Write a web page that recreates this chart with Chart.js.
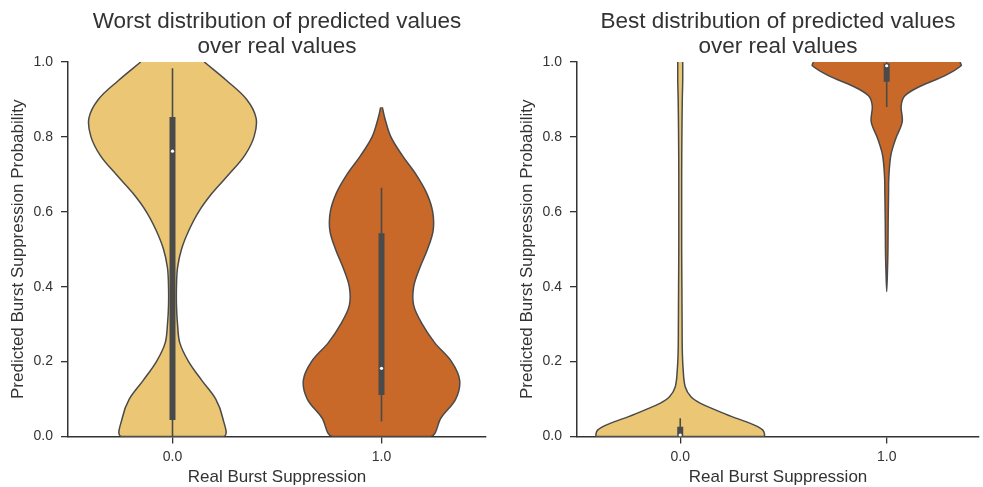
<!DOCTYPE html>
<html>
<head>
<meta charset="utf-8">
<script src="https://cdn.jsdelivr.net/npm/chart.js@4"></script>
<style>
  html, body { margin: 0; padding: 0; background: #fff; }
  body { width: 983px; height: 487px; position: relative; overflow: hidden; }
  .panel { position: absolute; top: 0; height: 487px; }
  #left { left: 0; width: 490px; }
  #right { left: 509px; width: 474px; }
</style>
</head>
<body>
<div class="panel" id="left"><canvas id="worst" width="490" height="487"></canvas></div>
<div class="panel" id="right"><canvas id="best" width="474" height="487"></canvas></div>
<script>
var categories = [0, 1];
var xTickLabels = ['0.0', '1.0'];
var yTicks = [0, 0.2, 0.4, 0.6, 0.8, 1.0];
var colors = ['#EBC775', '#C8692A'];

var worstTitle = ['Worst distribution of predicted values', 'over real values'];
var bestTitle = ['Best distribution of predicted values', 'over real values'];

// violin outline: probability levels and density half width (in category units)
var worstNoLevels = [0, 0.05, 0.1, 0.15, 0.2, 0.25, 0.3, 0.35, 0.4, 0.45, 0.5, 0.55, 0.6, 0.65, 0.7, 0.75, 0.8, 0.85, 0.9, 0.95, 1.0];
var worstNoWidths = [0.245, 0.24, 0.207, 0.14, 0.077, 0.035, 0.024, 0.019, 0.019, 0.024, 0.043, 0.078, 0.125, 0.19, 0.27, 0.345, 0.39, 0.40, 0.355, 0.26, 0.152];

var worstYesLevels = [0, 0.05, 0.1, 0.15, 0.2, 0.25, 0.3, 0.35, 0.4, 0.45, 0.5, 0.55, 0.6, 0.65, 0.7, 0.75, 0.8, 0.85, 0.879];
var worstYesWidths = [0.235, 0.285, 0.355, 0.374, 0.335, 0.255, 0.195, 0.154, 0.154, 0.183, 0.22, 0.247, 0.245, 0.216, 0.165, 0.10, 0.045, 0.016, 0.004];

var bestNoLevels = [0, 0.017, 0.035, 0.053, 0.071, 0.089, 0.106, 0.133, 0.18, 0.23, 0.3, 0.4, 0.5, 0.6, 0.7, 0.8, 0.9, 0.95, 1.0];
var bestNoWidths = [0.403, 0.40, 0.34, 0.25, 0.17, 0.096, 0.052, 0.024, 0.014, 0.01, 0.009, 0.008, 0.007, 0.007, 0.007, 0.008, 0.01, 0.012, 0.012];

var bestYesLevels = [0.387, 0.45, 0.5, 0.573, 0.65, 0.689, 0.751, 0.796, 0.84, 0.883, 0.91, 0.936, 0.963, 0.99, 1.0];
var bestYesWidths = [0, 0.004, 0.006, 0.007, 0.009, 0.01, 0.02, 0.044, 0.075, 0.07, 0.088, 0.165, 0.28, 0.36, 0.355];

// inner box: [whisker low, q1, median, q3, whisker high]
var worstNoBox = [0.0, 0.044, 0.762, 0.853, 0.983];
var worstYesBox = [0.04, 0.111, 0.182, 0.543, 0.664];
var bestNoBox = [0.0, 0.0, 0.004, 0.026, 0.049];
var bestYesBox = [0.88, 0.947, 0.99, 0.996, 1.0];

Chart.defaults.font.family = "'Liberation Sans', Arial, sans-serif";
Chart.defaults.color = '#333';

var edge = '#4a4a4a';

// down the left side, up the right side; the top stays open (cut by the axes)
function violinPoints(pos, levels, widths) {
    var pts = [];
    for (var j = levels.length - 1; j >= 0; j--) pts.push({x: pos - widths[j], y: levels[j]});
    for (var i = 0; i < levels.length; i++) {
        if (i == 0 && widths[0] == 0) continue;
        pts.push({x: pos + widths[i], y: levels[i]});
    }
    return pts;
}

function violinDatasets(pos, levels, widths, box, color) {
    var pts = violinPoints(pos, levels, widths);
    return [
        {
            data: pts,
            borderWidth: 0,
            borderColor: 'rgba(0,0,0,0)',
            backgroundColor: color,
            fill: 'shape',
            pointRadius: 0,
            tension: 0.35,
            clip: 0,
            order: 4
        },
        {
            data: pts,
            borderColor: edge,
            borderWidth: 1.5,
            fill: false,
            pointRadius: 0,
            tension: 0.35,
            clip: 0,
            order: 3
        },
        {
            data: [{x: pos, y: box[0]}, {x: pos, y: box[4]}],
            borderColor: edge,
            borderWidth: 1.6,
            pointRadius: 0,
            fill: false,
            order: 2
        },
        {
            data: [{x: pos, y: box[1]}, {x: pos, y: box[3]}],
            borderColor: edge,
            borderWidth: 6,
            borderCapStyle: 'butt',
            pointRadius: 0,
            fill: false,
            order: 1
        },
        {
            data: [{x: pos, y: box[2]}],
            showLine: false,
            pointRadius: 1.6,
            pointBorderWidth: 0,
            pointBackgroundColor: '#ffffff',
            order: 0
        }
    ];
}

function makeChart(id, title, xMax, rightPad, datasets) {
    var ctx = document.getElementById(id).getContext('2d');
    return new Chart(ctx, {
        type: 'line',
        data: { datasets: datasets },
        options: {
            responsive: false,
            animation: false,
            events: [],
            layout: { padding: { left: 0, right: rightPad, top: 0, bottom: 0 } },
            plugins: {
                legend: { display: false },
                tooltip: { enabled: false },
                title: {
                    display: true,
                    text: title,
                    fullSize: false,
                    color: '#333',
                    font: { size: 22.5, weight: 'normal', lineHeight: 1.12 },
                    padding: { top: 9, bottom: 2.6 }
                }
            },
            scales: {
                x: {
                    type: 'linear',
                    min: -0.5,
                    max: xMax,
                    afterBuildTicks: function(s) {
                        s.ticks = categories.map(function(v) { return {value: v}; });
                    },
                    afterFit: function(s) { s.height = 50.5; },
                    ticks: {
                        callback: function(v, i) { return xTickLabels[i]; },
                        color: '#333',
                        font: { size: 14 },
                        padding: 5,
                        autoSkip: false,
                        maxRotation: 0
                    },
                    grid: { drawOnChartArea: false, drawTicks: true, tickLength: 7, color: '#333', lineWidth: 1.3 },
                    border: { display: true, color: '#333', width: 1.5 },
                    title: {
                        display: true,
                        text: 'Real Burst Suppression',
                        color: '#333',
                        font: { size: 17 },
                        padding: { top: 0, bottom: -1 }
                    }
                },
                y: {
                    min: 0,
                    max: 1,
                    afterBuildTicks: function(s) {
                        s.ticks = yTicks.map(function(v) { return {value: v}; });
                    },
                    afterFit: function(s) { s.width = 68; },
                    ticks: {
                        callback: function(v) { return v.toFixed(1); },
                        color: '#333',
                        font: { size: 14 },
                        padding: 8
                    },
                    grid: { drawOnChartArea: false, drawTicks: true, tickLength: 7, color: '#333', lineWidth: 1.3 },
                    border: { display: true, color: '#333', width: 1.5 },
                    title: {
                        display: true,
                        text: 'Predicted Burst Suppression Probability',
                        color: '#333',
                        font: { size: 17 },
                        padding: { top: 8, bottom: 0 }
                    }
                }
            }
        }
    });
}

makeChart('worst', worstTitle, 1.5, 4,
    violinDatasets(categories[0], worstNoLevels, worstNoWidths, worstNoBox, colors[0])
        .concat(violinDatasets(categories[1], worstYesLevels, worstYesWidths, worstYesBox, colors[1])));

makeChart('best', bestTitle, 1.447, 0,
    violinDatasets(categories[0], bestNoLevels, bestNoWidths, bestNoBox, colors[0])
        .concat(violinDatasets(categories[1], bestYesLevels, bestYesWidths, bestYesBox, colors[1])));
</script>
</body>
</html>
